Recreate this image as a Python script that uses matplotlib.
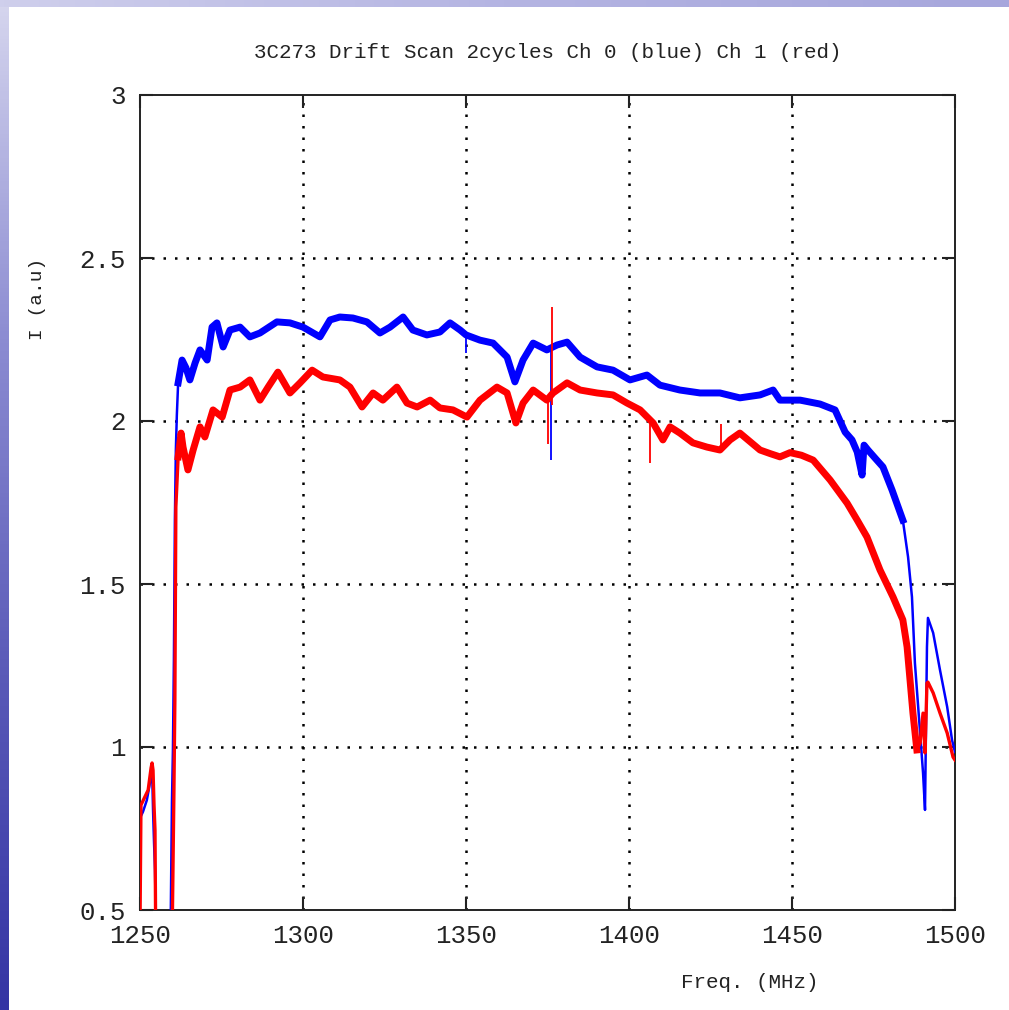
import matplotlib
matplotlib.use("Agg")
import matplotlib.pyplot as plt
import numpy as np
from matplotlib.colors import LinearSegmentedColormap

# Ch 0 (blue) spectrum
ch0_freq = [1250.0, 1250.9, 1252.1, 1253.1, 1253.7, 1254.0, 1254.3, 1254.6, 1254.9,
            1259.4, 1259.8, 1260.1, 1260.4, 1260.7, 1261.0, 1261.3, 1261.7, 1262.9,
            1264.1, 1265.3, 1266.9, 1268.4, 1270.6, 1272.1, 1273.6, 1275.5, 1277.6,
            1280.7, 1283.7, 1286.8, 1292.0, 1296.0, 1300.0, 1305.2, 1308.3, 1311.3,
            1315.3, 1319.6, 1323.6, 1326.7, 1330.7, 1333.7, 1338.0, 1342.0, 1345.1,
            1348.2, 1350.0, 1354.3, 1358.3, 1362.6, 1365.0, 1367.5, 1370.6, 1374.8,
            1377.9, 1381.0, 1385.0, 1390.2, 1395.1, 1400.3, 1405.5, 1409.5, 1415.6,
            1421.8, 1427.9, 1434.0, 1440.2, 1444.2, 1446.3, 1452.5, 1458.6, 1463.2,
            1466.3, 1468.4, 1470.0, 1471.5, 1472.1, 1473.3, 1475.5, 1477.9, 1480.7,
            1484.0, 1485.6, 1486.8, 1487.7, 1489.3, 1490.2, 1490.8, 1491.4, 1491.7,
            1493.3, 1495.4, 1497.6, 1499.1, 1500.0]
ch0_int = [0.782, 0.801, 0.837, 0.893, 0.936, 0.807, 0.709, 0.623, 0.45,
           0.45, 0.831, 0.991, 1.267, 1.696, 1.911, 2.018, 2.117, 2.187,
           2.163, 2.126, 2.178, 2.218, 2.187, 2.288, 2.301, 2.227, 2.279,
           2.288, 2.258, 2.270, 2.304, 2.301, 2.288, 2.258, 2.310, 2.319,
           2.316, 2.304, 2.270, 2.288, 2.319, 2.279, 2.264, 2.273, 2.301,
           2.279, 2.264, 2.248, 2.239, 2.196, 2.120, 2.187, 2.239, 2.218,
           2.233, 2.242, 2.196, 2.166, 2.156, 2.126, 2.141, 2.110, 2.095,
           2.086, 2.086, 2.071, 2.080, 2.095, 2.064, 2.064, 2.052, 2.034,
           1.966, 1.942, 1.905, 1.834, 1.926, 1.911, 1.886, 1.859, 1.788,
           1.696, 1.583, 1.460, 1.258, 1.043, 0.920, 0.807, 1.307, 1.396,
           1.350, 1.236, 1.123, 1.021, 0.985]

# Ch 1 (red) spectrum
ch1_freq = [1250.0, 1250.3, 1251.5, 1252.5, 1253.4, 1253.7, 1254.0, 1254.3, 1254.6,
            1254.8, 1259.9, 1260.4, 1260.7, 1261.0, 1261.7, 1262.6, 1263.2, 1264.7,
            1266.3, 1268.4, 1269.9, 1272.4, 1275.2, 1277.6, 1280.7, 1283.7, 1286.8,
            1289.3, 1292.3, 1296.0, 1299.1, 1302.8, 1306.1, 1311.3, 1314.4, 1318.1,
            1321.5, 1324.5, 1328.8, 1331.9, 1335.0, 1339.0, 1342.0, 1346.0, 1350.3,
            1354.3, 1359.5, 1362.6, 1365.3, 1367.5, 1370.6, 1374.8, 1376.7, 1381.0,
            1385.0, 1390.2, 1395.1, 1399.4, 1403.4, 1407.4, 1410.4, 1412.6, 1415.6,
            1419.6, 1423.9, 1427.9, 1431.0, 1434.0, 1440.2, 1443.3, 1446.3, 1449.4,
            1452.9, 1456.5, 1461.7, 1466.9, 1470.0, 1473.0, 1477.0, 1481.0, 1484.0,
            1485.3, 1486.2, 1487.1, 1488.3, 1489.3, 1490.2, 1490.8, 1491.4, 1491.7,
            1493.3, 1495.4, 1497.6, 1499.4, 1500.0]
ch1_int = [0.45, 0.822, 0.847, 0.868, 0.936, 0.951, 0.929, 0.822, 0.745,
           0.45, 0.45, 0.859, 1.144, 1.736, 1.890, 1.963, 1.920, 1.850,
           1.911, 1.982, 1.951, 2.034, 2.012, 2.095, 2.104, 2.126, 2.064,
           2.104, 2.150, 2.086, 2.117, 2.156, 2.135, 2.126, 2.104, 2.043,
           2.086, 2.064, 2.104, 2.055, 2.043, 2.064, 2.040, 2.034, 2.012,
           2.064, 2.104, 2.086, 1.994, 2.055, 2.095, 2.064, 2.086, 2.117,
           2.095, 2.086, 2.080, 2.055, 2.034, 1.994, 1.942, 1.982, 1.963,
           1.933, 1.920, 1.911, 1.942, 1.963, 1.911, 1.900, 1.890, 1.903,
           1.895, 1.880, 1.819, 1.748, 1.696, 1.644, 1.543, 1.460, 1.390,
           1.307, 1.206, 1.104, 0.991, 1.012, 1.104, 0.982, 1.196, 1.199,
           1.166, 1.104, 1.043, 0.969, 0.960]

# narrow RFI spikes: (freq, base, tip)
ch0_spike_freq = [1350.0, 1376.2]
ch0_spike_base = [2.27, 2.22]
ch0_spike_tip = [2.21, 1.88]
ch1_spike_freq = [1375.1, 1376.4, 1406.5, 1428.2]
ch1_spike_base = [2.06, 2.05, 2.01, 1.91]
ch1_spike_tip = [1.93, 2.35, 1.87, 1.99]

x_ticks = [1250, 1300, 1350, 1400, 1450, 1500]
y_ticks = [0.5, 1, 1.5, 2, 2.5, 3]
y_tick_labels = ['0.5', '1', '1.5', '2', '2.5', '3']

W, H = 1009, 1010
fig = plt.figure(figsize=(W / 100, H / 100), dpi=100)
fig.patch.set_facecolor('white')

# slide background strips (left and top edges)
left_cmap = LinearSegmentedColormap.from_list('l', ['#d6d6ee', '#8c8cd2', '#5a5ab8', '#3434a4'])
top_cmap = LinearSegmentedColormap.from_list('t', ['#cfcfec', '#b4b4e2', '#a6a6dc'])
sl = fig.add_axes([0, 0, 9 / W, 1])
sl.imshow(np.linspace(0, 1, 256).reshape(-1, 1), aspect='auto', cmap=left_cmap)
sl.axis('off')
st = fig.add_axes([0, 1 - 7 / H, 1, 7 / H])
st.imshow(np.linspace(0, 1, 256).reshape(1, -1), aspect='auto', cmap=top_cmap)
st.axis('off')

ax = fig.add_axes([140 / W, 1 - 910 / H, 815 / W, 815 / H])
mono = 'Liberation Mono'

# dotted grid on the inner ticks only
grid_style = dict(color='black', linestyle=(0, (1, 3.6)), lw=1.8, zorder=1)
for xv in x_ticks[1:-1]:
    ax.axvline(xv, **grid_style)
for yv in y_ticks[1:-1]:
    ax.axhline(yv, **grid_style)

f0, i0 = np.array(ch0_freq), np.array(ch0_int)
f1, i1 = np.array(ch1_freq), np.array(ch1_int)

ax.plot(f0, i0, color='#0000ff', lw=1.8, zorder=3)
m0 = (f0 >= 1261.5) & (f0 <= 1485)
ax.plot(f0[m0], i0[m0], color='#0000ff', lw=5, zorder=3, solid_joinstyle='round')
ax.vlines(ch0_spike_freq, ch0_spike_base, ch0_spike_tip, color='#0000ff', lw=1.3, zorder=3)

ax.plot(f1, i1, color='#ff0000', lw=2.4, zorder=4)
m1 = (f1 >= 1261.5) & (f1 <= 1488.5)
ax.plot(f1[m1], i1[m1], color='#ff0000', lw=5, zorder=4, solid_joinstyle='round')
ax.vlines(ch1_spike_freq, ch1_spike_base, ch1_spike_tip, color='#ff0000', lw=1.3, zorder=4)

ax.set_xlim(1250, 1500)
ax.set_ylim(0.5, 3)
ax.set_xticks(x_ticks)
ax.set_yticks(y_ticks)
ax.set_yticklabels(y_tick_labels)
ax.tick_params(direction='in', length=9.5, width=1.5, top=True, right=True,
               labelsize=18.5, pad=10, colors='#222222')
for lab in ax.get_xticklabels() + ax.get_yticklabels():
    lab.set_fontfamily(mono)
for sp in ax.spines.values():
    sp.set_linewidth(1.4)
    sp.set_color('#222222')

fig.text(547.5 / W, 1 - 52 / H, '3C273 Drift Scan 2cycles Ch 0 (blue) Ch 1 (red)',
         ha='center', va='center', fontsize=15, family=mono, color='#222222')
fig.text(750 / W, 1 - 982 / H, 'Freq. (MHz)', ha='center', va='center',
         fontsize=15, family=mono, color='#222222')
fig.text(38 / W, 1 - 299 / H, 'I (a.u)', ha='center', va='center', rotation=90,
         fontsize=14, family=mono, color='#222222')

fig.savefig('out.png', dpi=100)
